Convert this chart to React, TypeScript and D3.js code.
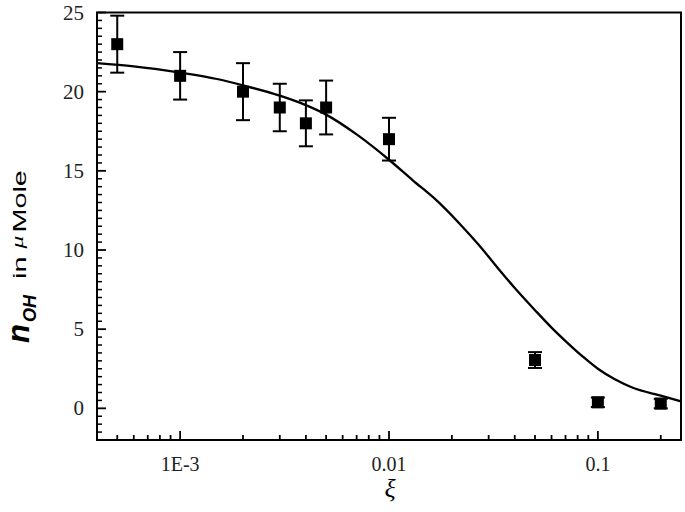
import React, { useEffect, useRef } from 'react';
import * as d3 from 'd3';

// measured points (xi, n_OH in umole, error)
const xiData = [5e-4, 1e-3, 2e-3, 3e-3, 4e-3, 5e-3, 0.01, 0.05, 0.1, 0.2];
const nData = [23, 21, 20, 19, 18, 19, 17, 3.05, 0.38, 0.3];
const errData = [1.8, 1.5, 1.8, 1.5, 1.45, 1.7, 1.35, 0.5, 0.3, 0.3];

// model curve
const curveXi = [4e-4, 6e-4, 1e-3, 1.5e-3, 2e-3, 3e-3, 4e-3, 5e-3, 7e-3, 0.01, 0.013, 0.017, 0.022, 0.027, 0.033, 0.04, 0.05, 0.06, 0.07, 0.085, 0.1, 0.12, 0.147, 0.2, 0.25];
const curveN = [21.8, 21.6, 21.2, 20.8, 20.4, 19.75, 19.15, 18.55, 17.3, 15.7, 14.4, 13.1, 11.6, 10.3, 8.9, 7.6, 6.2, 5.1, 4.25, 3.25, 2.5, 1.85, 1.3, 0.8, 0.44];

const xMajor = [1e-3, 0.01, 0.1];
const xLabels = ['1E-3', '0.01', '0.1'];
const yMajor = [0, 5, 10, 15, 20, 25];

const serif = 'Liberation Serif, Times New Roman, Tinos, DejaVu Serif, serif';
const sans = 'Liberation Sans, Arial, Arimo, sans-serif';

const Chart = () => {
  const svgRef = useRef<SVGSVGElement>(null);

  useEffect(() => {
    const svg = d3.select(svgRef.current);
    svg.selectAll('*').remove();

    const left = 97, right = 681, top = 12.5, bottom = 440;

    const x = d3.scaleLog().domain([4e-4, 0.25]).range([left, right]);
    const y = d3.scaleLinear().domain([-2, 25]).range([bottom, top]);

    const g = svg.append('g');

    // minor x ticks (2..9 of each decade)
    const minorX: number[] = [];
    [1e-4, 1e-3, 1e-2, 1e-1].forEach(d => {
      for (let k = 2; k <= 9; k++) {
        const v = d * k;
        if (v > 4e-4 && v < 0.25) minorX.push(v);
      }
    });
    g.selectAll('.xminor').data(minorX).enter().append('line')
      .attr('x1', d => x(d)).attr('x2', d => x(d))
      .attr('y1', bottom).attr('y2', bottom - 5)
      .attr('stroke', '#000').attr('stroke-width', 1.8);
    g.selectAll('.xmajor').data(xMajor).enter().append('line')
      .attr('x1', d => x(d)).attr('x2', d => x(d))
      .attr('y1', bottom).attr('y2', bottom - 9)
      .attr('stroke', '#000').attr('stroke-width', 1.8);
    g.selectAll('.xlab').data(xMajor).enter().append('text')
      .attr('x', d => x(d)).attr('y', 471)
      .attr('text-anchor', 'middle')
      .style('font-family', serif)
      .attr('font-size', 20)
      .attr('fill', '#222')
      .text((d, i) => xLabels[i]);

    // y ticks every 0.5, major every 5
    const minorY = d3.range(-1.5, 25, 0.5).filter(v => v % 5 !== 0);
    g.selectAll('.yminor').data(minorY).enter().append('line')
      .attr('x1', left).attr('x2', left + 5)
      .attr('y1', d => y(d)).attr('y2', d => y(d))
      .attr('stroke', '#000').attr('stroke-width', 1.5);
    g.selectAll('.ymajor').data(yMajor).enter().append('line')
      .attr('x1', left).attr('x2', left + 9)
      .attr('y1', d => y(d)).attr('y2', d => y(d))
      .attr('stroke', '#000').attr('stroke-width', 1.8);
    g.selectAll('.ylab').data(yMajor).enter().append('text')
      .attr('x', 84).attr('y', d => y(d) + 7)
      .attr('text-anchor', 'end')
      .style('font-family', serif)
      .attr('font-size', 21)
      .attr('fill', '#222')
      .text(d => d);

    // frame
    g.append('rect')
      .attr('x', left).attr('y', top)
      .attr('width', right - left).attr('height', bottom - top)
      .attr('fill', 'none').attr('stroke', '#000').attr('stroke-width', 2);

    // curve
    const line = d3.line<number>()
      .x(d => x(d))
      .y((d, i) => y(curveN[i]))
      .curve(d3.curveMonotoneX);
    g.append('path')
      .datum(curveXi)
      .attr('d', line)
      .attr('fill', 'none')
      .attr('stroke', '#000')
      .attr('stroke-width', 2.3);

    // error bars
    const pts = xiData.map((d, i) => ({ xi: d, n: nData[i], e: errData[i] }));
    const cap = 7;
    const eb = g.selectAll('.err').data(pts).enter().append('g');
    eb.append('line')
      .attr('x1', d => x(d.xi)).attr('x2', d => x(d.xi))
      .attr('y1', d => y(d.n + d.e)).attr('y2', d => y(d.n - d.e))
      .attr('stroke', '#000').attr('stroke-width', 2);
    eb.append('line')
      .attr('x1', d => x(d.xi) - cap).attr('x2', d => x(d.xi) + cap)
      .attr('y1', d => y(d.n + d.e)).attr('y2', d => y(d.n + d.e))
      .attr('stroke', '#000').attr('stroke-width', 2);
    eb.append('line')
      .attr('x1', d => x(d.xi) - cap).attr('x2', d => x(d.xi) + cap)
      .attr('y1', d => y(d.n - d.e)).attr('y2', d => y(d.n - d.e))
      .attr('stroke', '#000').attr('stroke-width', 2);

    // markers
    const s = 12;
    g.selectAll('.pt').data(pts).enter().append('rect')
      .attr('x', d => x(d.xi) - s / 2).attr('y', d => y(d.n) - s / 2)
      .attr('width', s).attr('height', s)
      .attr('fill', '#000');

    // axis titles
    svg.append('text')
      .attr('x', 390).attr('y', 497)
      .attr('text-anchor', 'middle')
      .style('font-family', serif)
      .attr('font-style', 'italic')
      .attr('font-size', 26)
      .text('ξ');

    const yt = svg.append('text')
      .attr('transform', 'translate(28.5,343) rotate(-90)')
      .style('font-family', sans);
    yt.append('tspan')
      .attr('font-size', 31).attr('font-weight', 'bold').attr('font-style', 'italic')
      .text('n');
    yt.append('tspan')
      .attr('font-size', 18).attr('font-weight', 'bold').attr('font-style', 'italic')
      .attr('dy', 7).attr('dx', 2)
      .text('OH');

    const yt2 = svg.append('text')
      .attr('transform', 'translate(26,279) rotate(-90) scale(1.6,1)')
      .style('font-family', sans)
      .attr('font-size', 18);
    yt2.append('tspan').text('in ');
    yt2.append('tspan')
      .attr('font-size', 16).attr('font-style', 'italic').attr('dy', -3)
      .style('font-family', serif)
      .text('μ');
    yt2.append('tspan').attr('dy', 3).attr('dx', 2).text('Mole');
  }, []);

  return <svg ref={svgRef} width={685} height={512} style={{ position: 'absolute', left: 0, top: 0, background: '#fff' }}></svg>;
};

export default function App() {
  return <Chart />;
}
